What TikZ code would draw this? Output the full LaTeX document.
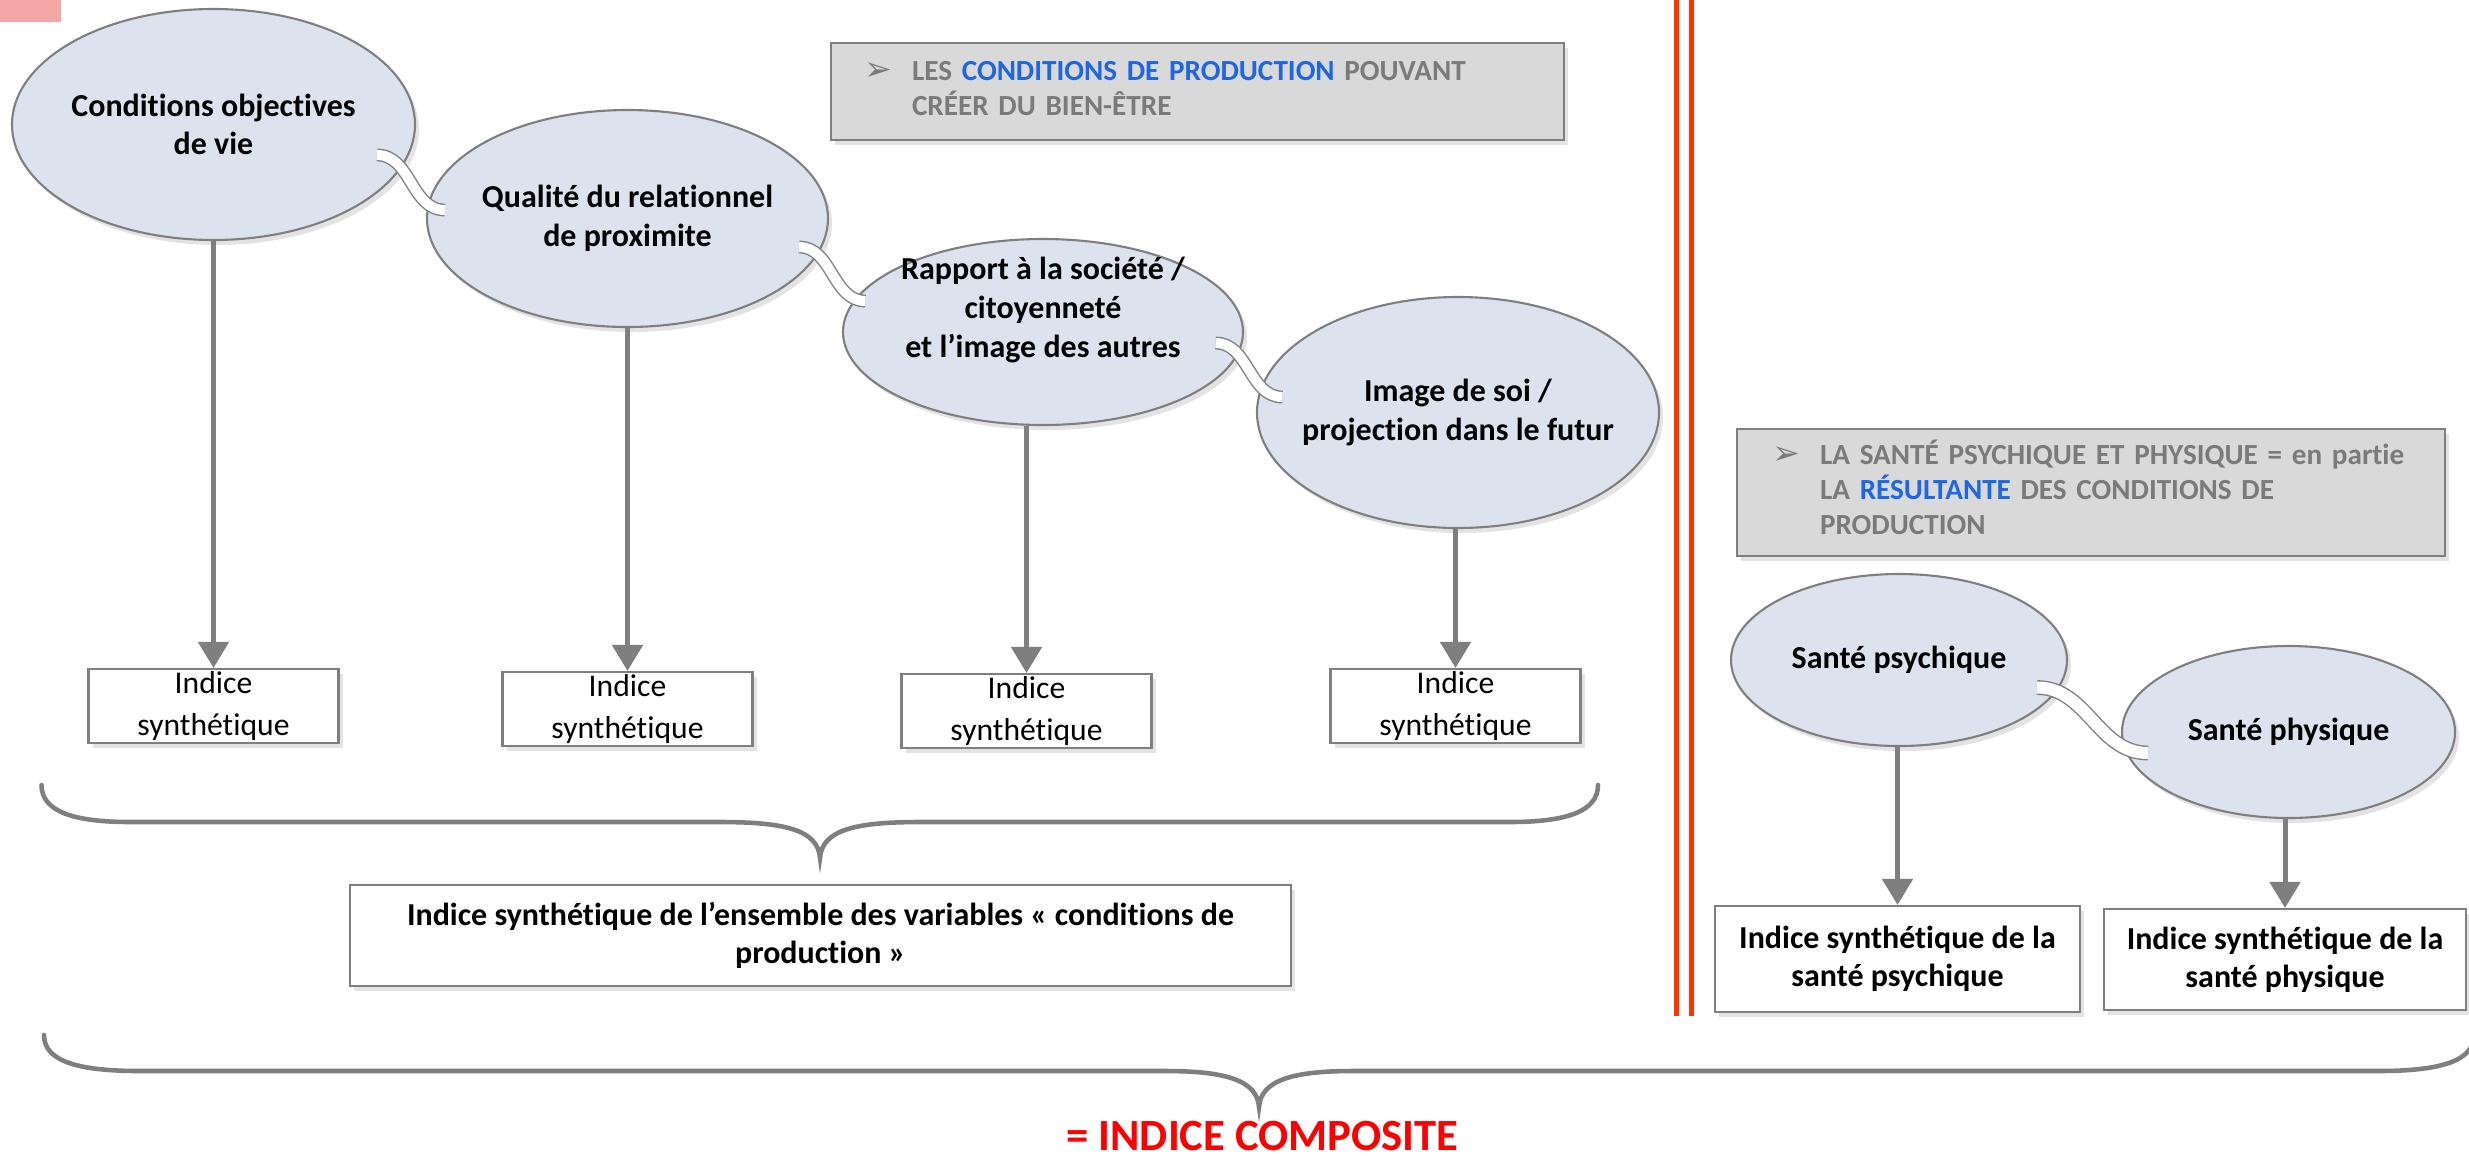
\documentclass[tikz,border=0pt]{standalone}
\usepackage{fontspec}
\setmainfont{Carlito}[Ligatures=NoCommon]
\newfontfamily\bulletfont{DejaVu Sans}
\usepackage{tikz}
\usetikzlibrary{arrows.meta,shapes.geometric,shadows,positioning,calc}
\usepackage{xcolor}

\definecolor{linegray}{HTML}{7F7F7F}
\definecolor{ellfill}{HTML}{DCE3EE}
\definecolor{boxgray}{HTML}{D9D9D9}
\definecolor{notegray}{HTML}{7A7A7A}
\definecolor{hiblue}{HTML}{1F66E5}
\definecolor{barred}{HTML}{FF3300}
\definecolor{cornerpink}{HTML}{F4A6A6}

\newcommand{\notebullet}{{\bulletfont\fontsize{9.5}{9.8}\selectfont\char"27A2}}

\begin{document}
\begin{tikzpicture}[
    softshadow/.style={drop shadow={shadow xshift=0.04cm,shadow yshift=-0.05cm,opacity=0.22}},
    ell/.style={
        draw=linegray,
        fill=ellfill,
        ellipse,
        line width=0.6pt,
        inner sep=0pt,
        softshadow
    },
    etext/.style={
        inner sep=0pt,
        align=center,
        font=\bfseries\fontsize{9.1}{11}\selectfont
    },
    ibox/.style={
        draw=linegray,
        fill=white,
        line width=0.6pt,
        softshadow,
        minimum width=2.5cm,
        minimum height=0.74cm,
        inner sep=0pt,
        align=center,
        font=\fontsize{9}{12}\selectfont
    },
    rbox/.style={
        draw=linegray,
        fill=white,
        line width=0.6pt,
        softshadow,
        inner sep=0pt,
        align=center,
        font=\bfseries\fontsize{9.1}{10.8}\selectfont
    },
    note/.style={
        draw=linegray,
        fill=boxgray,
        line width=0.6pt,
        softshadow,
        align=left,
        inner ysep=0pt,
        text=notegray,
        font=\bfseries\fontsize{8.3}{9.8}\selectfont
    },
    arr/.style={draw=linegray, line width=1.4pt, -{Triangle[width=0.3cm,length=0.26cm]}},
    wire/.style={draw=linegray, line width=0.4pt, double=white, double distance=0.1cm},
    brace/.style={draw=linegray, line width=1.3pt, line cap=round}
]
\useasboundingbox (0,0) rectangle (24.69,-11.63);

\fill[cornerpink] (0,0) rectangle (0.61,-0.22);

% separation
\draw[barred, line width=0.05cm] (16.765,0) -- (16.765,-10.16);
\draw[barred, line width=0.05cm] (16.91,0) -- (16.91,-10.16);

% braces
\draw[brace] (0.415,-7.85) .. controls (0.415,-8.12) and (0.75,-8.22) .. (1.30,-8.22)
    -- (7.20,-8.22) .. controls (7.85,-8.22) and (8.18,-8.30) .. (8.20,-8.58)
    .. controls (8.22,-8.30) and (8.55,-8.22) .. (9.20,-8.22)
    -- (15.10,-8.22) .. controls (15.65,-8.22) and (15.98,-8.12) .. (15.98,-7.85);
\draw[brace] (0.44,-10.35) .. controls (0.44,-10.62) and (0.80,-10.71) .. (1.40,-10.71)
    -- (11.65,-10.71) .. controls (12.25,-10.71) and (12.57,-10.80) .. (12.59,-11.07)
    .. controls (12.61,-10.80) and (12.93,-10.71) .. (13.53,-10.71)
    -- (23.78,-10.71) .. controls (24.38,-10.71) and (24.74,-10.62) .. (24.74,-10.35);

% notes
\node[note, minimum width=7.33cm, minimum height=0.97cm, inner xsep=0.33cm, text width=6.67cm]
    (note1) at (11.975,-0.915)
    {\begin{tabular}{@{}p{0.48cm}@{}l@{}}\notebullet & LES \textcolor{hiblue}{CONDITIONS DE PRODUCTION} POUVANT\\
     & CRÉER DU BIEN-ÊTRE\end{tabular}};
\node[note, minimum width=7.08cm, minimum height=1.27cm, inner xsep=0.35cm, text width=6.38cm]
    (note2) at (20.91,-4.925)
    {\begin{tabular}{@{}p{0.48cm}@{}l@{}}\notebullet & LA SANTÉ PSYCHIQUE ET PHYSIQUE = en partie\\
     & LA \textcolor{hiblue}{RÉSULTANTE} DES CONDITIONS DE\\
     & PRODUCTION\end{tabular}};

% variables
\node[ell, minimum width=4.03cm, minimum height=2.31cm] (e1) at (2.135,-1.245) {};
\node[etext] (t1) at (e1) {Conditions objectives\\de vie};
\node[ell, minimum width=4.01cm, minimum height=2.17cm] (e2) at (6.275,-2.185) {};
\node[etext] (t2) at (e2) {Qualité du relationnel\\de proximite};
\node[ell, minimum width=4.00cm, minimum height=1.86cm] (e3) at (10.43,-3.32) {};
\node[etext] (t3) at ([yshift=0.22cm]e3.center) {Rapport à la société /\\citoyenneté\\et l’image des autres};
\node[ell, minimum width=4.02cm, minimum height=2.31cm] (e4) at (14.58,-4.125) {};
\node[etext] (t4) at (e4) {Image de soi /\\projection dans le futur};
\node[ell, minimum width=3.36cm, minimum height=1.72cm] (e5) at (18.99,-6.60) {};
\node[etext] (t5) at (e5) {Santé psychique};
\node[ell, minimum width=3.33cm, minimum height=1.72cm] (e6) at (22.885,-7.32) {};
\node[etext] (t6) at (e6) {Santé physique};

% links between variables
\draw[wire] ([shift={(1.635,-0.305)}]e1.center) to[out=0,in=180] ([shift={(-1.825,0.085)}]e2.center);
\draw[wire] ([shift={(1.715,-0.285)}]e2.center) to[out=0,in=180] ([shift={(-1.775,0.31)}]e3.center);
\draw[wire] ([shift={(1.725,-0.11)}]e3.center) to[out=0,in=180] ([shift={(-1.755,0.155)}]e4.center);
\draw[wire, double distance=0.12cm] ([shift={(1.38,-0.275)}]e5.center) to[out=0,in=180] ([shift={(-1.405,-0.21)}]e6.center);

% indices
\node[ibox] (b1) at (2.135,-7.06) {Indice\\synthétique};
\node[ibox] (b2) at (6.275,-7.09) {Indice\\synthétique};
\node[ibox] (b3) at (10.265,-7.11) {Indice\\synthétique};
\node[ibox] (b4) at (14.555,-7.06) {Indice\\synthétique};
\node[rbox, minimum width=3.65cm, minimum height=1.06cm] (b5) at (18.975,-9.59)
    {Indice synthétique de la\\santé psychique};
\node[rbox, minimum width=3.62cm, minimum height=1.01cm] (b6) at (22.85,-9.595)
    {Indice synthétique de la\\santé physique};
\node[rbox, minimum width=9.41cm, minimum height=1.01cm] (ball) at (8.205,-9.355)
    {Indice synthétique de l’ensemble des variables « conditions de\\production »};

\draw[arr] (b1.north |- e1.south) -- (b1.north);
\draw[arr] (b2.north |- e2.south) -- (b2.north);
\draw[arr] (b3.north |- e3.south) -- (b3.north);
\draw[arr] (b4.north |- e4.south) -- (b4.north);
\draw[arr] (b5.north |- e5.south) -- (b5.north);
\draw[arr] (b6.north |- e6.south) -- (b6.north);

\node[inner sep=0pt, text=red, font=\bfseries\fontsize{12.7}{15}\selectfont] (total) at (12.625,-11.36)
    {= INDICE COMPOSITE};

\end{tikzpicture}
\end{document}
